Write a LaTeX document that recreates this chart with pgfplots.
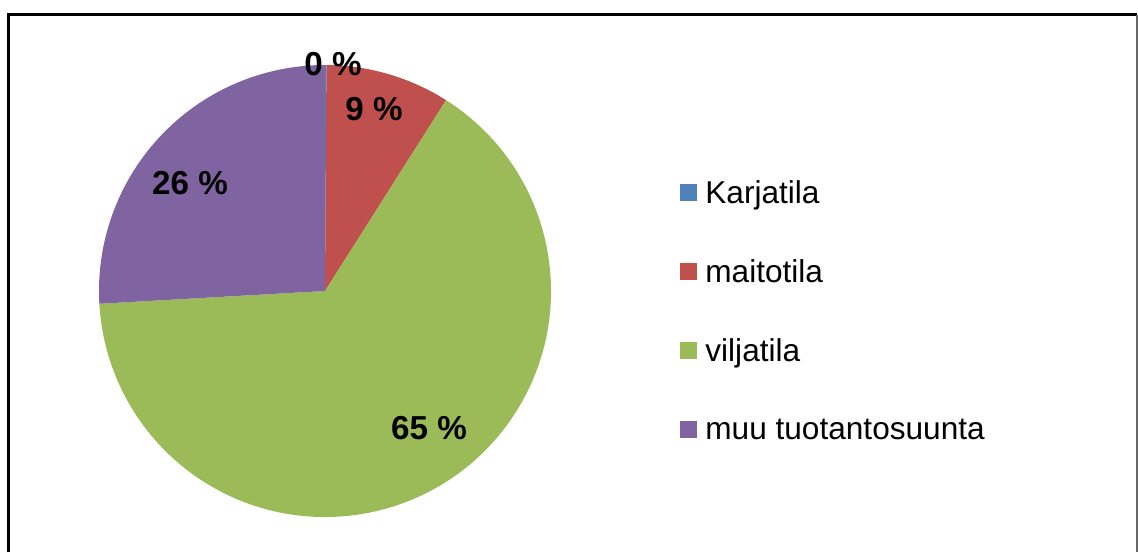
\documentclass[border=0pt]{standalone}
\usepackage{pgfplots}
\pgfplotsset{compat=1.18}
\usepackage{pgfplotstable}
\usepackage{fontspec}
\setmainfont{Liberation Sans}
\definecolor{cA}{HTML}{4F81BD}
\definecolor{cB}{HTML}{C0504D}
\definecolor{cC}{HTML}{9BBB59}
\definecolor{cD}{HTML}{8064A2}
\pgfplotstableread{
label value
Karjatila 0.1
maitotila 8.9
viljatila 65.1
muu 25.9
}\piedata
\begin{document}
\begin{tikzpicture}
\pgfplotstablegetelem{0}{value}\of\piedata \let\vA\pgfplotsretval
\pgfplotstablegetelem{1}{value}\of\piedata \let\vB\pgfplotsretval
\pgfplotstablegetelem{2}{value}\of\piedata \let\vC\pgfplotsretval
\pgfplotstablegetelem{3}{value}\of\piedata \let\vD\pgfplotsretval
\pgfmathsetmacro\aA{90}
\pgfmathsetmacro\aB{\aA-3.6*\vA}
\pgfmathsetmacro\aC{\aB-3.6*\vB}
\pgfmathsetmacro\aD{\aC-3.6*\vC}
\pgfmathsetmacro\aE{\aD-3.6*\vD}
\begin{axis}[
  scale only axis, width=569pt, height=276pt,
  xmin=0, xmax=1138, ymin=0, ymax=552, y dir=reverse,
  hide axis, clip=false,
]
% frame
\draw[black, line width=1.3pt] (axis cs:8.5,552) -- (axis cs:8.5,14.5) -- (axis cs:1136.5,14.5);
\draw[black!60, line width=1pt] (axis cs:1136.5,14.5) -- (axis cs:1136.5,552);
% pie
\fill[cA] (axis cs:325,291) -- ([shift={(\aA:113pt)}]axis cs:325,291) arc[start angle=\aA, end angle=\aB, radius=113pt] -- cycle;
\fill[cB] (axis cs:325,291) -- ([shift={(\aB:113pt)}]axis cs:325,291) arc[start angle=\aB, end angle=\aC, radius=113pt] -- cycle;
\fill[cC] (axis cs:325,291) -- ([shift={(\aC:113pt)}]axis cs:325,291) arc[start angle=\aC, end angle=\aD, radius=113pt] -- cycle;
\fill[cD] (axis cs:325,291) -- ([shift={(\aD:113pt)}]axis cs:325,291) arc[start angle=\aD, end angle=\aE, radius=113pt] -- cycle;
% data labels
\begin{scope}[every node/.style={font=\bfseries\fontsize{16.6}{19}\selectfont, inner sep=0pt}]
\node at (axis cs:333,64) {0 \%};
\node at (axis cs:374,109) {9 \%};
\node at (axis cs:190,183) {26 \%};
\node at (axis cs:429,428) {65 \%};
\end{scope}
% legend
\begin{scope}[every node/.style={font=\fontsize{15.8}{19}\selectfont, inner sep=0pt, anchor=base west}]
\fill[cA] (axis cs:680,184) rectangle (axis cs:697,201);
\fill[cB] (axis cs:680,263) rectangle (axis cs:697,280);
\fill[cC] (axis cs:680,342) rectangle (axis cs:697,359);
\fill[cD] (axis cs:680,421) rectangle (axis cs:697,438);
\node at (axis cs:705,203) {Karjatila};
\node at (axis cs:705,282) {maitotila};
\node at (axis cs:705,361) {viljatila};
\node at (axis cs:705,439) {muu tuotantosuunta};
\end{scope}
\end{axis}
\pgfresetboundingbox
\path[use as bounding box] (current axis.south west) rectangle (current axis.north east);
\end{tikzpicture}
\end{document}
